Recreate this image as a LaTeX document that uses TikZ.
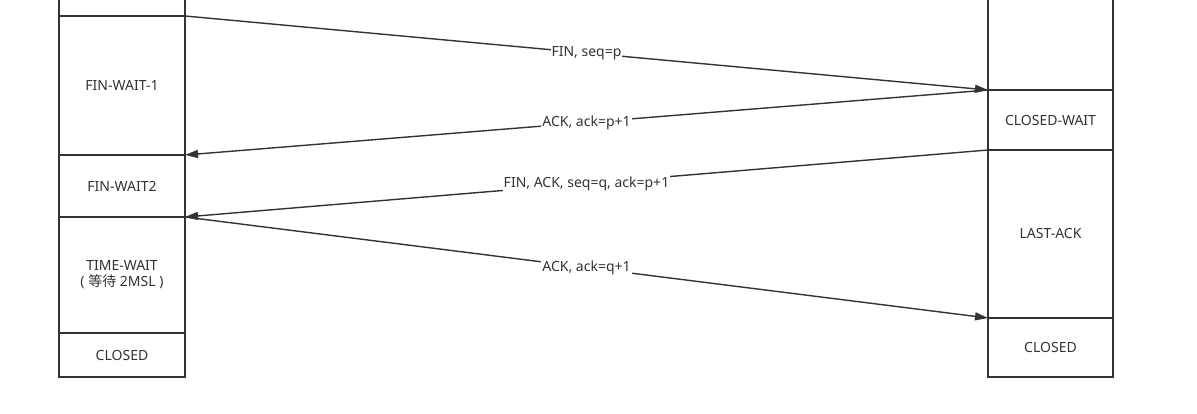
\documentclass[tikz,border=0pt]{standalone}
\usepackage{fontspec}
\setmainfont{Noto Sans}
\newfontfamily\cjk{Noto Sans CJK SC}
\usetikzlibrary{arrows.meta}
\definecolor{ink}{HTML}{333333}
\begin{document}
\begin{tikzpicture}[x=1pt,y=-1pt,
  state/.style={draw=ink,line width=1.4pt,fill=white,inner sep=0pt,outer sep=0pt,
    anchor=north west,text=ink,font=\fontsize{14}{16}\selectfont,align=center},
  msg/.style={draw=ink,line width=1.4pt,-{Triangle[length=13pt,width=8pt]}},
  lbl/.style={fill=white,inner sep=1pt,text=ink,font=\fontsize{14}{16}\selectfont}]
\clip (0,0) rectangle (1197,414);
\fill[white] (0,0) rectangle (1197,414);
% client side
\node[state,minimum width=126,minimum height=26] (l0) at (59,-10) {};
\node[state,minimum width=126,minimum height=139] (fw1) at (59,16) {FIN-WAIT-1};
\node[state,minimum width=126,minimum height=62] (fw2) at (59,155) {FIN-WAIT2};
\node[state,minimum width=126,minimum height=116] (tw) at (59,217) {TIME-WAIT\\( {\cjk 等待} 2MSL )};
\node[state,minimum width=126,minimum height=44] (lc) at (59,333) {CLOSED};
% server side
\node[state,minimum width=125,minimum height=100] (r0) at (988,-10) {};
\node[state,minimum width=125,minimum height=60] (cw) at (988,90) {CLOSED-WAIT};
\node[state,minimum width=125,minimum height=168] (la) at (988,150) {LAST-ACK};
\node[state,minimum width=125,minimum height=59] (rc) at (988,318) {CLOSED};
% messages
\draw[msg] (l0.south east) -- node[lbl]{FIN, seq=p} (cw.north west);
\draw[msg] (cw.north west) -- node[lbl]{ACK, ack=p+1} (fw1.south east);
\draw[msg] (la.north west) -- node[lbl]{FIN, ACK, seq=q, ack=p+1} (fw2.south east);
\draw[msg] (tw.north east) -- node[lbl]{ACK, ack=q+1} (rc.north west);
\end{tikzpicture}
\end{document}
